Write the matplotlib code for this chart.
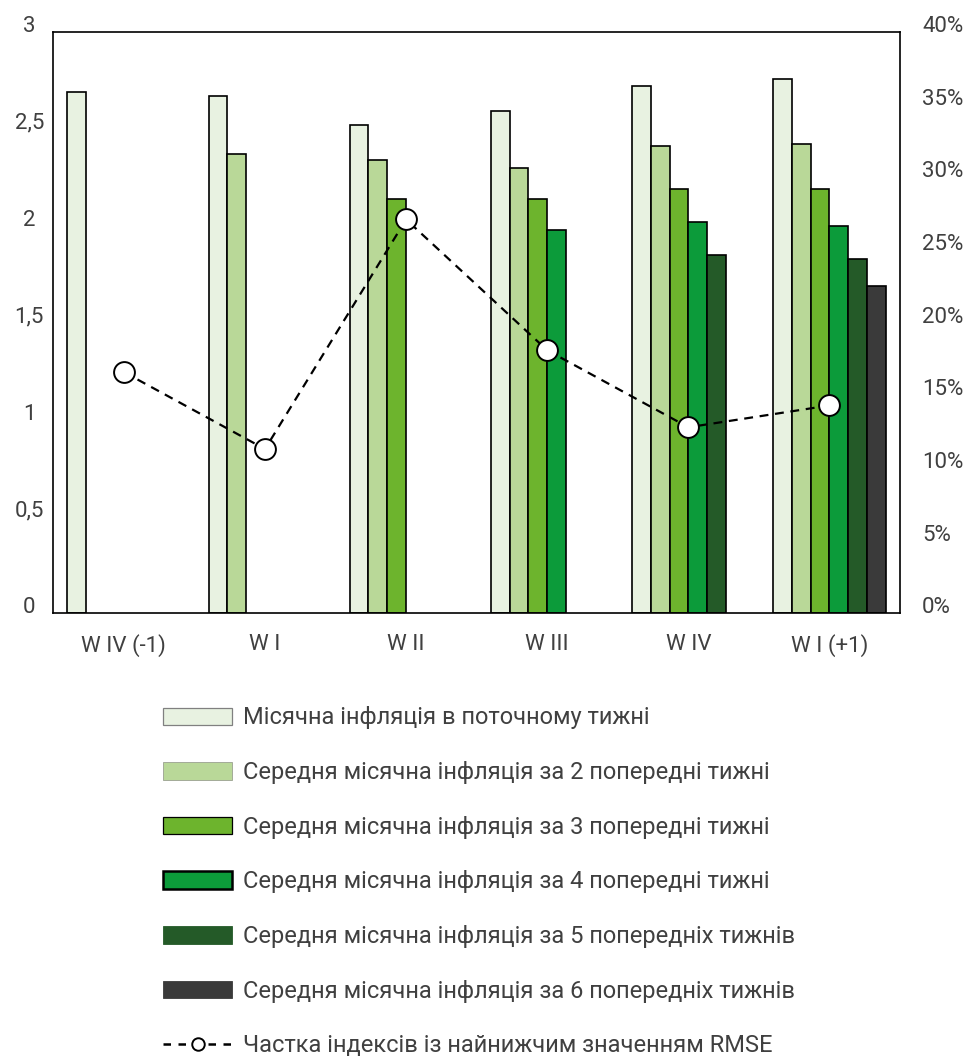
import numpy as np
import matplotlib
matplotlib.use("Agg")
import matplotlib.pyplot as plt
import matplotlib.patches as patches
import matplotlib.transforms as mtransforms
from matplotlib.lines import Line2D

plt.rcParams["font.family"] = ["Roboto", "DejaVu Sans"]

nan = np.nan
categories = ["W IV (-1)", "W I", "W II", "W III", "W IV", "W I (+1)"]

# monthly inflation estimates, one list per series (nan = no bar)
s1 = [2.69, 2.67, 2.52, 2.59, 2.72, 2.76]
s2 = [nan, 2.37, 2.34, 2.30, 2.41, 2.42]
s3 = [nan, nan, 2.14, 2.14, 2.19, 2.19]
s4 = [nan, nan, nan, 1.98, 2.02, 2.00]
s5 = [nan, nan, nan, nan, 1.85, 1.83]
s6 = [nan, nan, nan, nan, nan, 1.69]

# share of indices with lowest RMSE, %
share = [16.6, 11.3, 27.1, 18.1, 12.8, 14.3]

labels = [
    "Місячна інфляція в поточному тижні",
    "Середня місячна інфляція за 2 попередні тижні",
    "Середня місячна інфляція за 3 попередні тижні",
    "Середня місячна інфляція за 4 попередні тижні",
    "Середня місячна інфляція за 5 попередніх тижнів",
    "Середня місячна інфляція за 6 попередніх тижнів",
]
line_label = "Частка індексів із найнижчим значенням RMSE"

left_ticks = [0, 0.5, 1, 1.5, 2, 2.5, 3]
left_ticklabels = ["0", "0,5", "1", "1,5", "2", "2,5", "3"]
right_ticks = [0, 5, 10, 15, 20, 25, 30, 35, 40]
right_ticklabels = ["0%", "5%", "10%", "15%", "20%", "25%", "30%", "35%", "40%"]

colors = ["#E8F2E1", "#B9D898", "#6DB42D", "#0C9B3A", "#245A28", "#3A3A3A"]
txt = "#404040"

fig = plt.figure(figsize=(9.69, 10.57), dpi=100)
ax = fig.add_axes([0.055, 0.4198, 0.8738, 0.5499])

series = [s1, s2, s3, s4, s5, s6]
n = len(series)
w = 0.8 / n
x = np.arange(len(categories))
for j, vals in enumerate(series):
    vals = np.array(vals, dtype=float)
    ok = ~np.isnan(vals)
    ax.bar(x[ok] + (j - (n - 1) / 2) * w, vals[ok], width=w,
           color=colors[j], edgecolor="black", linewidth=1.2, zorder=2)

ax.set_xlim(-0.5, len(categories) - 0.5)
ax.set_ylim(0, 3)
ax.set_xticks(x)
ax.set_xticklabels(categories)
ax.set_yticks(left_ticks)
ax.set_yticklabels(left_ticklabels, ha="center")
ax.tick_params(axis="y", length=0, pad=17.3, labelsize=16, labelcolor=txt)
ax.tick_params(axis="x", length=0, pad=15, labelsize=16, labelcolor=txt)
for s in ax.spines.values():
    s.set_linewidth(1.2)
    s.set_color("black")

ax2 = ax.twinx()
ax2.plot(x, share, color="black", linewidth=1.6, dashes=(4, 3),
         marker="o", markersize=15, markerfacecolor="white",
         markeredgecolor="black", markeredgewidth=1.4, zorder=5)
ax2.set_ylim(0, 40)
ax2.set_yticks(right_ticks)
ax2.set_yticklabels(right_ticklabels)
ax2.tick_params(axis="y", length=0, pad=15.8, labelsize=16, labelcolor=txt)
for s in ax2.spines.values():
    s.set_visible(False)

# y tick labels sit a bit above their values
up = mtransforms.ScaledTranslation(0, 8 / 100, fig.dpi_scale_trans)
for lab in ax.get_yticklabels() + ax2.get_yticklabels():
    lab.set_transform(lab.get_transform() + up)

handles = [
    patches.Patch(facecolor=colors[0], edgecolor="#808080", linewidth=0.9),
    patches.Patch(facecolor=colors[1], edgecolor="#9aa090", linewidth=0.6),
    patches.Patch(facecolor=colors[2], edgecolor="black", linewidth=0.9),
    patches.Patch(facecolor=colors[3], edgecolor="black", linewidth=1.8),
    patches.Patch(facecolor=colors[4], edgecolor=colors[4], linewidth=0.6),
    patches.Patch(facecolor=colors[5], edgecolor=colors[5], linewidth=0.6),
    Line2D([], [], color="black", linewidth=1.8, dashes=(3, 3), marker="o",
           markersize=9, markerfacecolor="white", markeredgecolor="black",
           markeredgewidth=1.4),
]
leg = fig.legend(handles, labels + [line_label], loc="upper left",
                 bbox_to_anchor=(0.1679, 0.3316), frameon=False,
                 borderpad=0, borderaxespad=0, fontsize=17,
                 handlelength=2.95, handleheight=0.76, handletextpad=0.45,
                 labelspacing=1.34)
for t in leg.get_texts():
    t.set_color(txt)

fig.savefig("out.png", dpi=100)
